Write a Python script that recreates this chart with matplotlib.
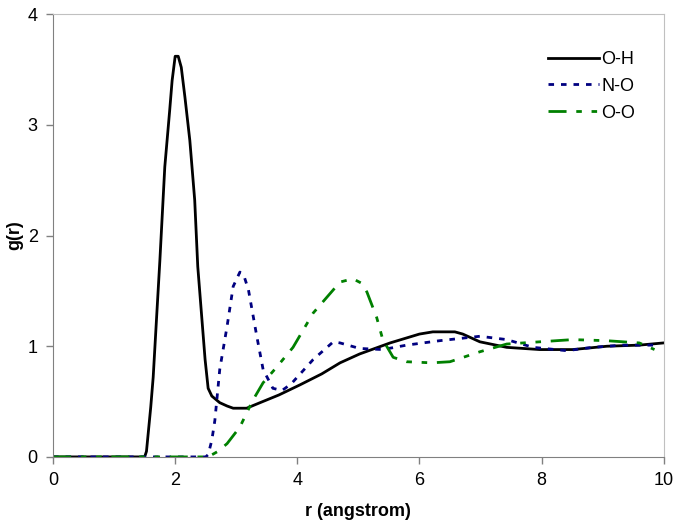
import matplotlib
matplotlib.use("Agg")
import matplotlib.pyplot as plt

plt.rcParams['font.family'] = ['Liberation Sans', 'DejaVu Sans']

# O-H
r_oh = [0, 1.5, 1.53, 1.6, 1.64, 1.7, 1.75, 1.83, 1.91, 1.95, 2.0, 2.05, 2.1, 2.16, 2.24,
        2.32, 2.37, 2.43, 2.49, 2.54, 2.6, 2.73, 2.85, 2.95, 3.17, 3.39, 3.7, 4.04, 4.4,
        4.7, 5.02, 5.52, 6.0, 6.22, 6.58, 6.71, 6.99, 7.43, 7.97, 8.51, 9.07, 9.6, 10]
g_oh = [0, 0, 0.05, 0.45, 0.72, 1.3, 1.78, 2.62, 3.13, 3.4, 3.62, 3.62, 3.52, 3.25, 2.86,
        2.32, 1.72, 1.3, 0.88, 0.62, 0.55, 0.49, 0.46, 0.44, 0.44, 0.49, 0.56, 0.65, 0.75,
        0.85, 0.93, 1.03, 1.11, 1.13, 1.13, 1.11, 1.04, 0.99, 0.97, 0.97, 1.0, 1.01, 1.03]

# N-O
r_no = [0, 2.5, 2.54, 2.6, 2.65, 2.73, 2.85, 2.95, 3.06, 3.13, 3.2, 3.34, 3.44, 3.6, 3.75,
        3.9, 4.26, 4.59, 4.7, 5.02, 5.4, 5.79, 6.33, 6.66, 6.99, 7.43, 7.86, 8.41, 8.84,
        9.33, 9.85]
g_no = [0, 0, 0.02, 0.15, 0.33, 0.79, 1.18, 1.54, 1.67, 1.63, 1.51, 1.08, 0.79, 0.62, 0.6,
        0.66, 0.88, 1.04, 1.03, 0.98, 0.97, 1.01, 1.05, 1.07, 1.09, 1.06, 0.99, 0.96, 0.99,
        1.01, 1.01]

# O-O
r_oo = [0, 2.5, 2.54, 2.7, 2.85, 3.06, 3.27, 3.44, 3.66, 3.93, 4.26, 4.59, 4.7, 4.91, 5.05,
        5.14, 5.3, 5.4, 5.57, 5.79, 6.2, 6.5, 6.99, 7.43, 7.97, 8.51, 9.07, 9.6, 9.85]
g_oo = [0, 0, 0, 0.05, 0.12, 0.27, 0.51, 0.67, 0.81, 0.99, 1.3, 1.51, 1.58, 1.61, 1.57,
        1.49, 1.26, 1.06, 0.9, 0.86, 0.85, 0.86, 0.95, 1.02, 1.04, 1.06, 1.05, 1.03, 0.97]

fig = plt.figure(figsize=(6.8, 5.27), dpi=100)
ax = fig.add_axes([0.078, 0.133, 0.898, 0.84])

ax.plot(r_oh, g_oh, color="black", lw=2, label="O-H")
ax.plot(r_no, g_no, color="#000080", lw=2, dashes=[2, 2.5], label="N-O")
ax.plot(r_oo, g_oo, color="#008000", lw=2, dashes=[6.5, 3.5, 2, 3.5, 2, 3.5], label="O-O")

ax.set_xlim(0, 10)
ax.set_ylim(0, 4)
ax.set_xticks([0, 2, 4, 6, 8, 10])
ax.set_yticks([0, 1, 2, 3, 4])
ax.tick_params(direction="out", length=5, width=1, color="#808080", labelsize=13, pad=6)

for s in ["left", "bottom"]:
    ax.spines[s].set_color("#808080")
for s in ["top", "right"]:
    ax.spines[s].set_color("#c0c0c0")

ax.set_xlabel("r (angstrom)", fontsize=13, fontweight="bold")
ax.set_ylabel("g(r)", fontsize=13, fontweight="bold")
ax.xaxis.set_label_coords(0.5, -0.105)
ax.yaxis.set_label_coords(-0.049, 0.5)

ax.legend(loc="upper right", frameon=False, fontsize=13, handlelength=2.8,
          handletextpad=0.15, labelspacing=0.55, bbox_to_anchor=(0.98, 0.954))

fig.savefig("out.png", dpi=100)
